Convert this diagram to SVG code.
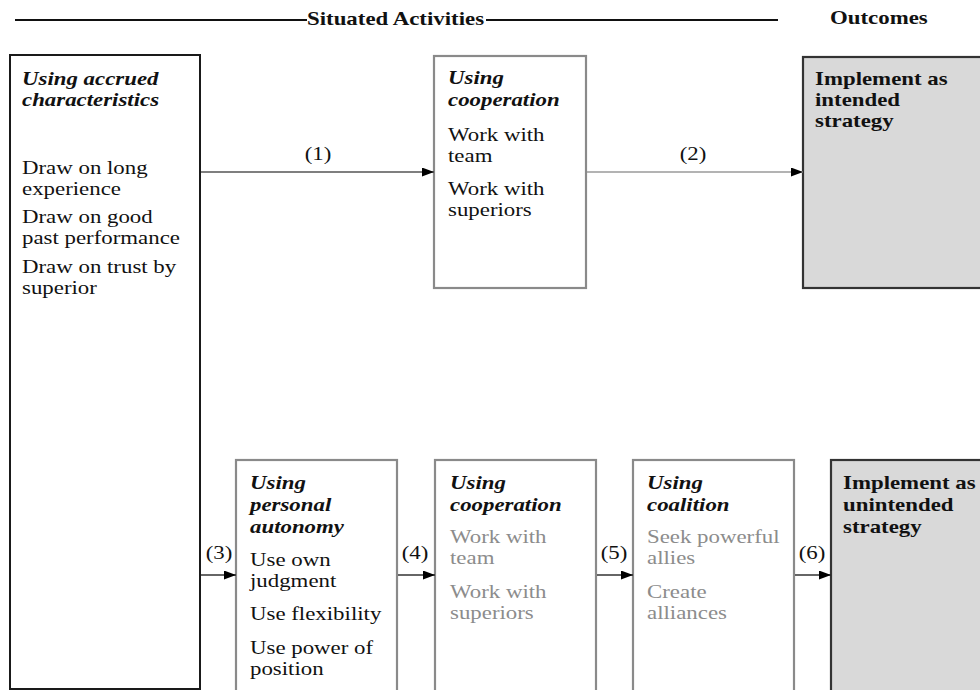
<svg xmlns="http://www.w3.org/2000/svg" width="980" height="690" viewBox="0 0 980 690">
<defs>
<style>
.t{font-family:"Liberation Serif","Times New Roman",serif;font-size:18px;fill:#111}
.hi{font-style:italic;font-weight:bold}
.b{font-weight:bold}
.g{fill:#8c8c8c}
.lbl{text-anchor:middle}
.box{fill:#fff;stroke:#8a8a8a;stroke-width:2.2}
.lbox{fill:#fff;stroke:#1a1a1a;stroke-width:2}
.out{fill:#d9d9d9;stroke:#333;stroke-width:2.2}
.hdr{stroke:#111;stroke-width:1.8}
.arr{fill:none;stroke-width:1.5;marker-end:url(#ah)}
</style>
<marker id="ah" markerUnits="userSpaceOnUse" markerWidth="13" markerHeight="10" refX="12" refY="4.5" orient="auto">
<path d="M0,0 L12,4.5 L0,9 Z" fill="#000"/>
</marker>
</defs>
<rect width="980" height="690" fill="#fff"/>

<g id="header">
<line class="hdr" x1="15" y1="20" x2="307" y2="20"/>
<g transform="translate(307 0) scale(1.27 1)"><text class="t b" x="0" y="25">Situated Activities</text></g>
<line class="hdr" x1="486" y1="20" x2="778" y2="20"/>
<g transform="translate(830 0) scale(1.27 1)"><text class="t b" x="0" y="24">Outcomes</text></g>
</g>

<g id="accrued">
<rect class="lbox" x="10" y="55" width="190" height="634"/>
<g transform="translate(22 0) scale(1.27 1)">
<text class="t hi" x="0" y="85">Using accrued</text>
<text class="t hi" x="0" y="106">characteristics</text>
<text class="t" x="0" y="174">Draw on long</text>
<text class="t" x="0" y="195">experience</text>
<text class="t" x="0" y="223">Draw on good</text>
<text class="t" x="0" y="244">past performance</text>
<text class="t" x="0" y="273">Draw on trust by</text>
<text class="t" x="0" y="294">superior</text>
</g>
</g>

<g id="coop-top">
<rect class="box" x="434" y="56" width="152" height="232"/>
<g transform="translate(448 0) scale(1.27 1)">
<text class="t hi" x="0" y="84">Using</text>
<text class="t hi" x="0" y="106">cooperation</text>
<text class="t" x="0" y="141">Work with</text>
<text class="t" x="0" y="162">team</text>
<text class="t" x="0" y="195">Work with</text>
<text class="t" x="0" y="216">superiors</text>
</g>
</g>

<g id="outcome-intended">
<rect class="out" x="803" y="57" width="190" height="231"/>
<g transform="translate(815 0) scale(1.27 1)">
<text class="t b" x="0" y="85">Implement as</text>
<text class="t b" x="0" y="106">intended</text>
<text class="t b" x="0" y="127">strategy</text>
</g>
</g>

<g id="autonomy">
<rect class="box" x="236" y="460" width="161" height="240"/>
<g transform="translate(250 0) scale(1.27 1)">
<text class="t hi" x="0" y="489">Using</text>
<text class="t hi" x="0" y="511">personal</text>
<text class="t hi" x="0" y="533">autonomy</text>
<text class="t" x="0" y="566">Use own</text>
<text class="t" x="0" y="587">judgment</text>
<text class="t" x="0" y="620">Use flexibility</text>
<text class="t" x="0" y="654">Use power of</text>
<text class="t" x="0" y="675">position</text>
</g>
</g>

<g id="coop-bottom">
<rect class="box" x="435" y="460" width="161" height="240"/>
<g transform="translate(450 0) scale(1.27 1)">
<text class="t hi" x="0" y="489">Using</text>
<text class="t hi" x="0" y="511">cooperation</text>
<text class="t g" x="0" y="543">Work with</text>
<text class="t g" x="0" y="564">team</text>
<text class="t g" x="0" y="598">Work with</text>
<text class="t g" x="0" y="619">superiors</text>
</g>
</g>

<g id="coalition">
<rect class="box" x="633" y="460" width="161" height="240"/>
<g transform="translate(647 0) scale(1.27 1)">
<text class="t hi" x="0" y="489">Using</text>
<text class="t hi" x="0" y="511">coalition</text>
<text class="t g" x="0" y="543">Seek powerful</text>
<text class="t g" x="0" y="564">allies</text>
<text class="t g" x="0" y="598">Create</text>
<text class="t g" x="0" y="619">alliances</text>
</g>
</g>

<g id="outcome-unintended">
<rect class="out" x="831" y="460" width="160" height="240"/>
<g transform="translate(843 0) scale(1.27 1)">
<text class="t b" x="0" y="489">Implement as</text>
<text class="t b" x="0" y="511">unintended</text>
<text class="t b" x="0" y="533">strategy</text>
</g>
</g>

<g id="connectors">
<line class="arr" x1="201" y1="172" x2="434" y2="172" stroke="#555"/>
<line class="arr" x1="587" y1="172" x2="803" y2="172" stroke="#9a9a9a"/>
<line class="arr" x1="201" y1="575" x2="236" y2="575" stroke="#333"/>
<line class="arr" x1="398" y1="575" x2="435" y2="575" stroke="#333"/>
<line class="arr" x1="597" y1="575" x2="633" y2="575" stroke="#333"/>
<line class="arr" x1="795" y1="575" x2="831" y2="575" stroke="#333"/>
<g transform="translate(318 0) scale(1.27 1)"><text class="t lbl" x="0" y="160">(1)</text></g>
<g transform="translate(693 0) scale(1.27 1)"><text class="t lbl" x="0" y="160">(2)</text></g>
<g transform="translate(219 0) scale(1.27 1)"><text class="t lbl" x="0" y="559">(3)</text></g>
<g transform="translate(415 0) scale(1.27 1)"><text class="t lbl" x="0" y="559">(4)</text></g>
<g transform="translate(614 0) scale(1.27 1)"><text class="t lbl" x="0" y="559">(5)</text></g>
<g transform="translate(812 0) scale(1.27 1)"><text class="t lbl" x="0" y="559">(6)</text></g>
</g>
</svg>
